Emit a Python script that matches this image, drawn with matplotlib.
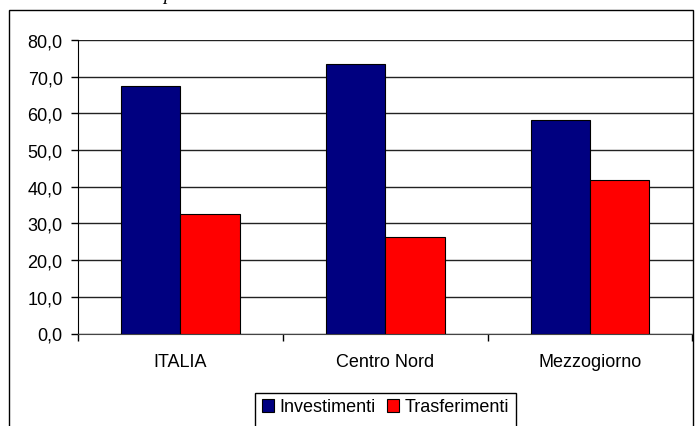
import matplotlib.pyplot as plt
import matplotlib.patches as mpatches
import numpy as np

plt.rcParams['font.family'] = ['Liberation Sans', 'DejaVu Sans']

# Dati
categorie = ['ITALIA', 'Centro Nord', 'Mezzogiorno']
investimenti = [67.5, 73.4, 58.1]
trasferimenti = [32.5, 26.4, 41.8]
y_ticks = [0, 10, 20, 30, 40, 50, 60, 70, 80]

W, H = 696, 427
fig = plt.figure(figsize=(W / 100, H / 100), dpi=100)

# cornice esterna del grafico (tagliata a destra e in basso)
fig.patches.append(mpatches.Rectangle((9 / W, -0.1), (692.5 - 9) / W, 1.1 - 11 / H,
                                      transform=fig.transFigure, fill=False,
                                      edgecolor='black', linewidth=1.0))
# cornice della legenda (anche lei tagliata in basso)
fig.patches.append(mpatches.Rectangle((255 / W, -0.1), (516 - 255) / W, 0.1 + 1 - 394 / H,
                                      transform=fig.transFigure, fill=False,
                                      edgecolor='black', linewidth=1.0))
# resto del titolo tagliato in alto
fig.text(163 / W, 1.0, 'p', fontsize=14, style='italic', family='Liberation Serif',
         va='baseline', ha='left')

ax = fig.add_axes([78 / W, 1 - 334.5 / H, (692.5 - 78) / W, (334.5 - 41) / H])

x = np.arange(len(categorie))
bw = 0.29
ax.bar(x - bw / 2, investimenti, bw, color='#000080', edgecolor='black', linewidth=0.8,
       label='Investimenti', zorder=3)
ax.bar(x + bw / 2, trasferimenti, bw, color='#FF0000', edgecolor='black', linewidth=0.8,
       label='Trasferimenti', zorder=3)

ax.set_xlim(-0.5, len(categorie) - 0.5)
ax.set_ylim(0, 80)
ax.set_yticks(y_ticks)
ax.set_yticklabels([f'{v:.1f}'.replace('.', ',') for v in y_ticks], fontsize=13)
ax.set_xticks(x)
ax.set_xticklabels(categorie, fontsize=13)
ax.set_xticks(np.arange(len(categorie) + 1) - 0.5, minor=True)
ax.tick_params(axis='x', which='major', length=0, pad=14)
ax.tick_params(axis='x', which='minor', length=5, width=1, color='black')
ax.tick_params(axis='y', length=5, width=1, pad=6)

ax.yaxis.grid(True, color='#222222', linewidth=1.0, zorder=0)
ax.set_axisbelow(True)
for s in ['top', 'right']:
    ax.spines[s].set_visible(False)
ax.spines['left'].set_color('black')
ax.spines['bottom'].set_color('#444444')

leg = fig.legend(loc='center', bbox_to_anchor=(385.5 / W, 1 - 408 / H),
                 ncol=2, frameon=False, fontsize=13, handlelength=0.7,
                 handleheight=0.7, handletextpad=0.3, columnspacing=0.6, borderaxespad=0,
                 borderpad=0)

fig.savefig('out.png', dpi=100)
